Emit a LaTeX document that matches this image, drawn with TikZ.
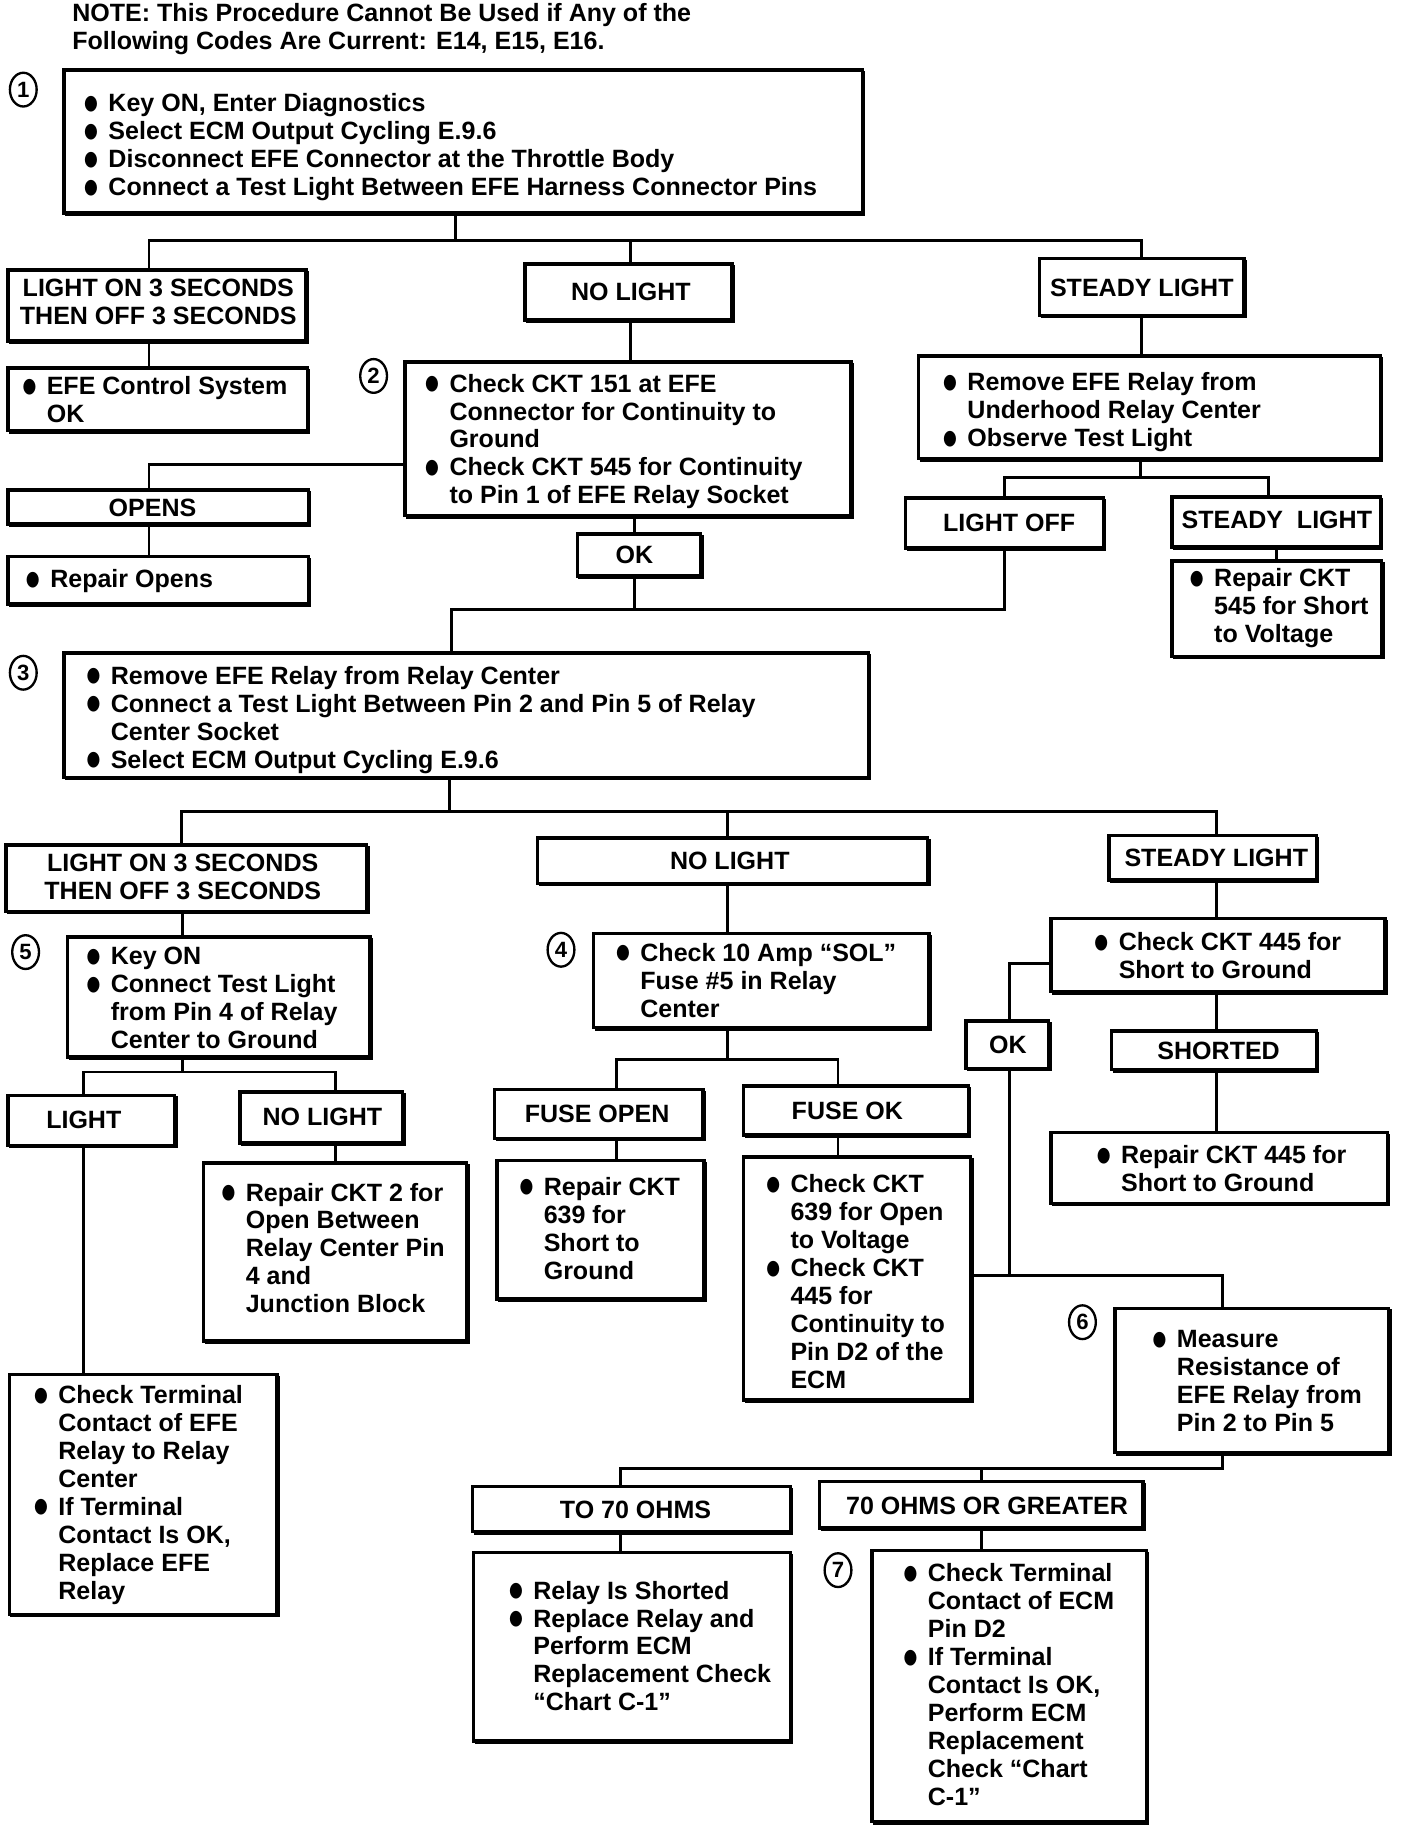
\documentclass[tikz,border=0pt]{standalone}
\usepackage{fontspec}
\setmainfont{Liberation Sans}
\newfontfamily\symf{DejaVu Sans}
\usepackage{graphicx}
\usetikzlibrary{shapes.geometric}
\newcommand\bul{\llap{\raisebox{2pt}{\symf\fontsize{16}{16}\selectfont\scalebox{0.85}[1.1]{●}}\hspace{9pt}}}
\newcommand\bx[5]{\node[box, anchor=north west, minimum width={#4-#2}, minimum height={#5-#3}] (#1) at (#2,#3) {};
  \draw[line width=1.5pt] ([xshift=1pt,yshift=-1.8pt]#1.south west) -- ([xshift=1.8pt,yshift=-1.8pt]#1.south east) -- ([xshift=1.8pt,yshift=-1pt]#1.north east);}
\newcommand\ctr[4]{\node[lbl, align=center] (#1) at (#2,#3) {#4};}
\newcommand\txt[4]{\node[lbl, align=left, anchor=north west, yshift=9.1pt] (#1) at (#2,#3) {\strut #4};}
\newcommand\vc[3]{\coordinate (tmp) at (#3,0); \draw[conn] (#1.south -| tmp) -- (#2.north -| tmp);}
\begin{document}
\begin{tikzpicture}[x=1pt,y=-1pt,
  box/.style={draw, rectangle, line width=3pt, inner sep=0pt, outer sep=0pt},
  lbl/.style={inner sep=0pt, font=\bfseries\fontsize{21.5}{24}\selectfont},
  conn/.style={line width=2.5pt},
  num/.style={draw, ellipse, line width=2pt, minimum width=23pt, minimum height=29pt, inner sep=0pt, font=\bfseries\fontsize{19}{19}\selectfont}]
\fill[white] (0,0) rectangle (1210,1574);
\useasboundingbox (0,0) rectangle (1210,1574);

% note
\txt{note}{62}{11}{NOTE: This Procedure Cannot Be Used if Any of the\\Following Codes Are Current: E14, E15, E16.}

% circled numbers
\node[num] (n1) at (20,77) {1};
\node[num] (n2) at (321,323) {2};
\node[num] (n3) at (20,578) {3};
\node[num] (n5) at (22,818) {5};
\node[num] (n4) at (482,816) {4};
\node[num] (n6) at (930,1136) {6};
\node[num] (n7) at (720,1349) {7};

% boxes
\bx{b1}{55}{60}{741}{183}
\bx{lo1}{7}{232}{263}{293}
\bx{efeok}{7}{316}{264}{370}
\bx{nl1}{451}{227}{629}{275}
\bx{b2}{348}{311}{731}{443}
\bx{opens}{7}{421}{265}{450}
\bx{ropens}{7}{478}{265}{519}
\bx{ok1}{496}{459}{602}{495}
\bx{st1}{893}{222}{1069}{271}
\bx{r1}{789}{306}{1186}{394}
\bx{loff}{778}{428}{948}{471}
\bx{st2}{1007}{427}{1186}{470}
\bx{r545}{1007}{482}{1187}{564}
\bx{b3}{55}{561}{746}{668}
\bx{lon2}{5}{726}{315}{783}
\bx{b5}{58}{805}{318}{908}
\bx{light}{7}{941}{150}{984}
\bx{nl3}{206}{938}{346}{982}
\bx{cterm}{8}{1181}{238}{1387}
\bx{r2}{175}{999}{401}{1152}
\bx{nl2}{462}{720}{797}{759}
\bx{b4}{510}{802}{798}{883}
\bx{fopen}{425}{936}{604}{978}
\bx{r639}{427}{997}{605}{1116}
\bx{fok}{639}{933}{832}{975}
\bx{c639}{639}{994}{834}{1203}
\bx{st3}{953}{718}{1131}{756}
\bx{c445}{903}{789}{1190}{852}
\bx{ok2}{830}{877}{901}{918}
\bx{shorted}{955}{886}{1131}{919}
\bx{r445}{903}{973}{1192}{1034}
\bx{b6}{958}{1124}{1193}{1248}
\bx{to70}{406}{1277}{679}{1316}
\bx{rshort}{407}{1334}{679}{1496}
\bx{g70}{704}{1273}{982}{1313}
\bx{b7}{749}{1332}{985}{1565}

% texts
\txt{tb1}{93}{88}{\bul Key ON, Enter Diagnostics\\\bul Select ECM Output Cycling E.9.6\\\bul Disconnect EFE Connector at the Throttle Body\\\bul Connect a Test Light Between EFE Harness Connector Pins}
\ctr{tlo1}{136}{259}{LIGHT ON 3 SECONDS\\THEN OFF 3 SECONDS}
\txt{tefeok}{40}{331}{\bul EFE Control System\\OK}
\ctr{tnl1}{542}{251}{NO LIGHT}
\txt{tb2}{386}{329}{\bul Check CKT 151 at EFE\\Connector for Continuity to\\Ground\\\bul Check CKT 545 for Continuity\\to Pin 1 of EFE Relay Socket}
\ctr{topens}{131}{436}{OPENS}
\txt{tropens}{43}{497}{\bul Repair Opens}
\ctr{tok1}{545}{477}{OK}
\ctr{tst1}{981}{247}{STEADY LIGHT}
\txt{tr1}{831}{328}{\bul Remove EFE Relay from\\Underhood Relay Center\\\bul Observe Test Light}
\ctr{tloff}{867}{449}{LIGHT OFF}
\ctr{tst2}{1097}{447}{STEADY\ \ LIGHT}
\txt{tr545}{1043}{496}{\bul Repair CKT\\545 for Short\\to Voltage}
\txt{tb3}{95}{580}{\bul Remove EFE Relay from Relay Center\\\bul Connect a Test Light Between Pin 2 and Pin 5 of Relay\\Center Socket\\\bul Select ECM Output Cycling E.9.6}
\ctr{tlon2}{157}{753.5}{LIGHT ON 3 SECONDS\\THEN OFF 3 SECONDS}
\txt{tb5}{95}{821}{\bul Key ON\\\bul Connect Test Light\\from Pin 4 of Relay\\Center to Ground}
\ctr{tlight}{72}{962}{LIGHT}
\ctr{tnl3}{277}{960}{NO LIGHT}
\txt{tcterm}{50}{1198}{\bul Check Terminal\\Contact of EFE\\Relay to Relay\\Center\\\bul If Terminal\\Contact Is OK,\\Replace EFE\\Relay}
\txt{tr2}{211}{1024}{\bul Repair CKT 2 for\\Open Between\\Relay Center Pin\\4 and\\Junction Block}
\ctr{tnl2}{627}{740}{NO LIGHT}
\txt{tb4}{550}{818}{\bul Check 10 Amp “SOL”\\Fuse \#5 in Relay\\Center}
\ctr{tfopen}{513}{957}{FUSE OPEN}
\txt{tr639}{467}{1019}{\bul Repair CKT\\639 for\\Short to\\Ground}
\ctr{tfok}{728}{954}{FUSE OK}
\txt{tc639}{679}{1017}{\bul Check CKT\\639 for Open\\to Voltage\\\bul Check CKT\\445 for\\Continuity to\\Pin D2 of the\\ECM}
\ctr{tst3}{1045}{737}{STEADY LIGHT}
\txt{tc445}{961}{809}{\bul Check CKT 445 for\\Short to Ground}
\ctr{tok2}{866}{898}{OK}
\ctr{tshorted}{1047}{903}{SHORTED}
\txt{tr445}{963}{992}{\bul Repair CKT 445 for\\Short to Ground}
\txt{tb6}{1011}{1150}{\bul Measure\\Resistance of\\EFE Relay from\\Pin 2 to Pin 5}
\ctr{tto70}{546}{1297}{TO 70 OHMS}
\txt{trshort}{458}{1366}{\bul Relay Is Shorted\\\bul Replace Relay and\\Perform ECM\\Replacement Check\\“Chart C-1”}
\ctr{tg70}{848}{1294}{70 OHMS OR GREATER}
\txt{tb7}{797}{1351}{\bul Check Terminal\\Contact of ECM\\Pin D2\\\bul If Terminal\\Contact Is OK,\\Perform ECM\\Replacement\\Check “Chart\\C-1”}

% connectors
\coordinate (j1) at (391,207); \coordinate (j1a) at (128,207); \coordinate (j1b) at (542,207); \coordinate (j1c) at (981,207);
\draw[conn] (b1.south -| j1) -- (j1);
\draw[conn] (lo1.north -| j1a) -- (j1a) -- (j1c) -- (st1.north -| j1c);
\draw[conn] (j1b) -- (nl1.north -| j1b);
\vc{lo1}{efeok}{128}
\vc{nl1}{b2}{542}
\coordinate (j2) at (128,399);
\draw[conn] (b2.west |- j2) -- (j2) -- (opens.north -| j2);
\vc{opens}{ropens}{128}
\vc{b2}{ok1}{545}
\coordinate (j3) at (545,524); \coordinate (j3a) at (388,524); \coordinate (j3b) at (863,524);
\draw[conn] (ok1.south -| j3) -- (j3);
\draw[conn] (b3.north -| j3a) -- (j3a) -- (j3b) -- (loff.south -| j3b);
\vc{st1}{r1}{981}
\coordinate (j4) at (980,410); \coordinate (j4a) at (863,410); \coordinate (j4b) at (1090,410);
\draw[conn] (r1.south -| j4) -- (j4);
\draw[conn] (loff.north -| j4a) -- (j4a) -- (j4b) -- (st2.north -| j4b);
\vc{st2}{r545}{1097}
\coordinate (j5) at (386,697); \coordinate (j5a) at (156,697); \coordinate (j5b) at (625,697); \coordinate (j5c) at (1045,697);
\draw[conn] (b3.south -| j5) -- (j5);
\draw[conn] (lon2.north -| j5a) -- (j5a) -- (j5c) -- (st3.north -| j5c);
\draw[conn] (j5b) -- (nl2.north -| j5b);
\vc{lon2}{b5}{157}
\coordinate (j6) at (157,921); \coordinate (j6a) at (72,921); \coordinate (j6b) at (288,921);
\draw[conn] (b5.south -| j6) -- (j6);
\draw[conn] (light.north -| j6a) -- (j6a) -- (j6b) -- (nl3.north -| j6b);
\vc{light}{cterm}{72}
\vc{nl3}{r2}{288}
\vc{nl2}{b4}{625}
\coordinate (j7) at (625,910); \coordinate (j7a) at (530,910); \coordinate (j7b) at (720,910);
\draw[conn] (b4.south -| j7) -- (j7);
\draw[conn] (fopen.north -| j7a) -- (j7a) -- (j7b) -- (fok.north -| j7b);
\vc{fopen}{r639}{530}
\vc{fok}{c639}{720}
\vc{st3}{c445}{1045}
\coordinate (j8) at (867,828);
\draw[conn] (c445.west |- j8) -- (j8) -- (ok2.north -| j8);
\vc{c445}{shorted}{1045}
\vc{shorted}{r445}{1045}
\coordinate (j9) at (867,1096); \coordinate (j9b) at (1050,1096);
\draw[conn] (ok2.south -| j9) -- (j9);
\draw[conn] (c639.east |- j9) -- (j9b) -- (b6.north -| j9b);
\coordinate (j10) at (1050,1262); \coordinate (j10a) at (533,1262); \coordinate (j10b) at (843,1262);
\draw[conn] (b6.south -| j10) -- (j10) -- (j10a) -- (to70.north -| j10a);
\draw[conn] (j10b) -- (g70.north -| j10b);
\vc{to70}{rshort}{533}
\vc{g70}{b7}{843}
\end{tikzpicture}
\end{document}
